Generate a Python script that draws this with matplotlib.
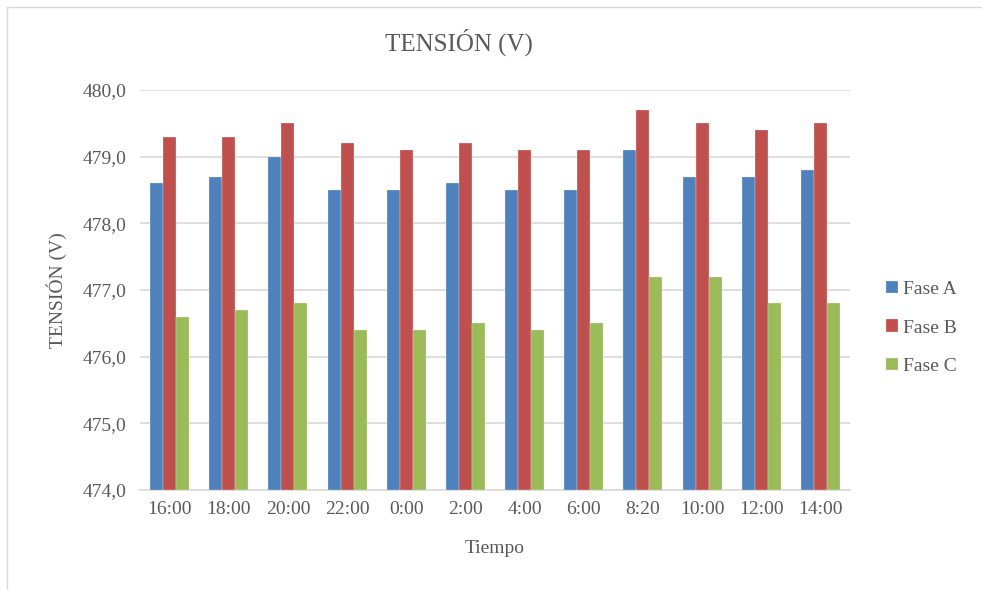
import numpy as np
import matplotlib.pyplot as plt
from matplotlib.lines import Line2D

# Data
horas = ['16:00', '18:00', '20:00', '22:00', '0:00', '2:00', '4:00', '6:00',
         '8:20', '10:00', '12:00', '14:00']
fase_a = [478.6, 478.7, 479.0, 478.5, 478.5, 478.6, 478.5, 478.5, 479.1, 478.7, 478.7, 478.8]
fase_b = [479.3, 479.3, 479.5, 479.2, 479.1, 479.2, 479.1, 479.1, 479.7, 479.5, 479.4, 479.5]
fase_c = [476.6, 476.7, 476.8, 476.4, 476.4, 476.5, 476.4, 476.5, 477.2, 477.2, 476.8, 476.8]
y_ticks = [474, 475, 476, 477, 478, 479, 480]

plt.rcParams['font.family'] = ['Liberation Serif', 'DejaVu Serif']
txt = '#595959'

fig = plt.figure(figsize=(9.82, 5.9), dpi=100)
ax = fig.add_axes([140/982, 100/590, 710/982, 400/590])

x = np.arange(len(horas))
w = 0.22
base = 474
series = [(fase_a, '#4F81BD', 'Fase A'), (fase_b, '#C0504D', 'Fase B'), (fase_c, '#9BBB59', 'Fase C')]
for i, (vals, col, lab) in enumerate(series):
    ax.bar(x + (i - 1) * w, np.array(vals) - base, w, bottom=base, color=col,
           edgecolor='#f2f2f2', linewidth=0.2, label=lab, zorder=3)

ax.set_xlim(-0.5, len(horas) - 0.5)
ax.set_ylim(474, 480)
ax.set_yticks(y_ticks)
ax.set_yticklabels([f'{v:.1f}'.replace('.', ',') for v in y_ticks])
ax.set_xticks(x)
ax.set_xticklabels(horas)
ax.tick_params(length=0, labelsize=14, colors=txt, pad=8)
ax.tick_params(axis='y', pad=10)
ax.grid(axis='y', color='#d9d9d9', linewidth=1.2, zorder=0)
for s in ['top', 'right', 'left']:
    ax.spines[s].set_visible(False)
ax.spines['bottom'].set_color('#d9d9d9')
ax.spines['bottom'].set_linewidth(1.2)

ax.set_xlabel('Tiempo', fontsize=14, color=txt, labelpad=16)
ax.set_ylabel('TENSIÓN (V)', fontsize=14, color=txt, labelpad=11)
fig.text(459/982, 1 - 42/590, 'TENSIÓN (V)', fontsize=18, color=txt, ha='center', va='center')

leg = ax.legend(loc='center left', bbox_to_anchor=(1.026, 0.405), frameon=False,
                fontsize=14, handlelength=0.6, handleheight=0.6, handletextpad=0.3,
                labelspacing=1.1, labelcolor=txt)

# chart border
fig.add_artist(Line2D([7/982, 7/982], [0, 1 - 7/590], transform=fig.transFigure, color='#d9d9d9', lw=1))
fig.add_artist(Line2D([7/982, 1], [1 - 7/590, 1 - 7/590], transform=fig.transFigure, color='#d9d9d9', lw=1))

fig.savefig('out.png', dpi=100)
